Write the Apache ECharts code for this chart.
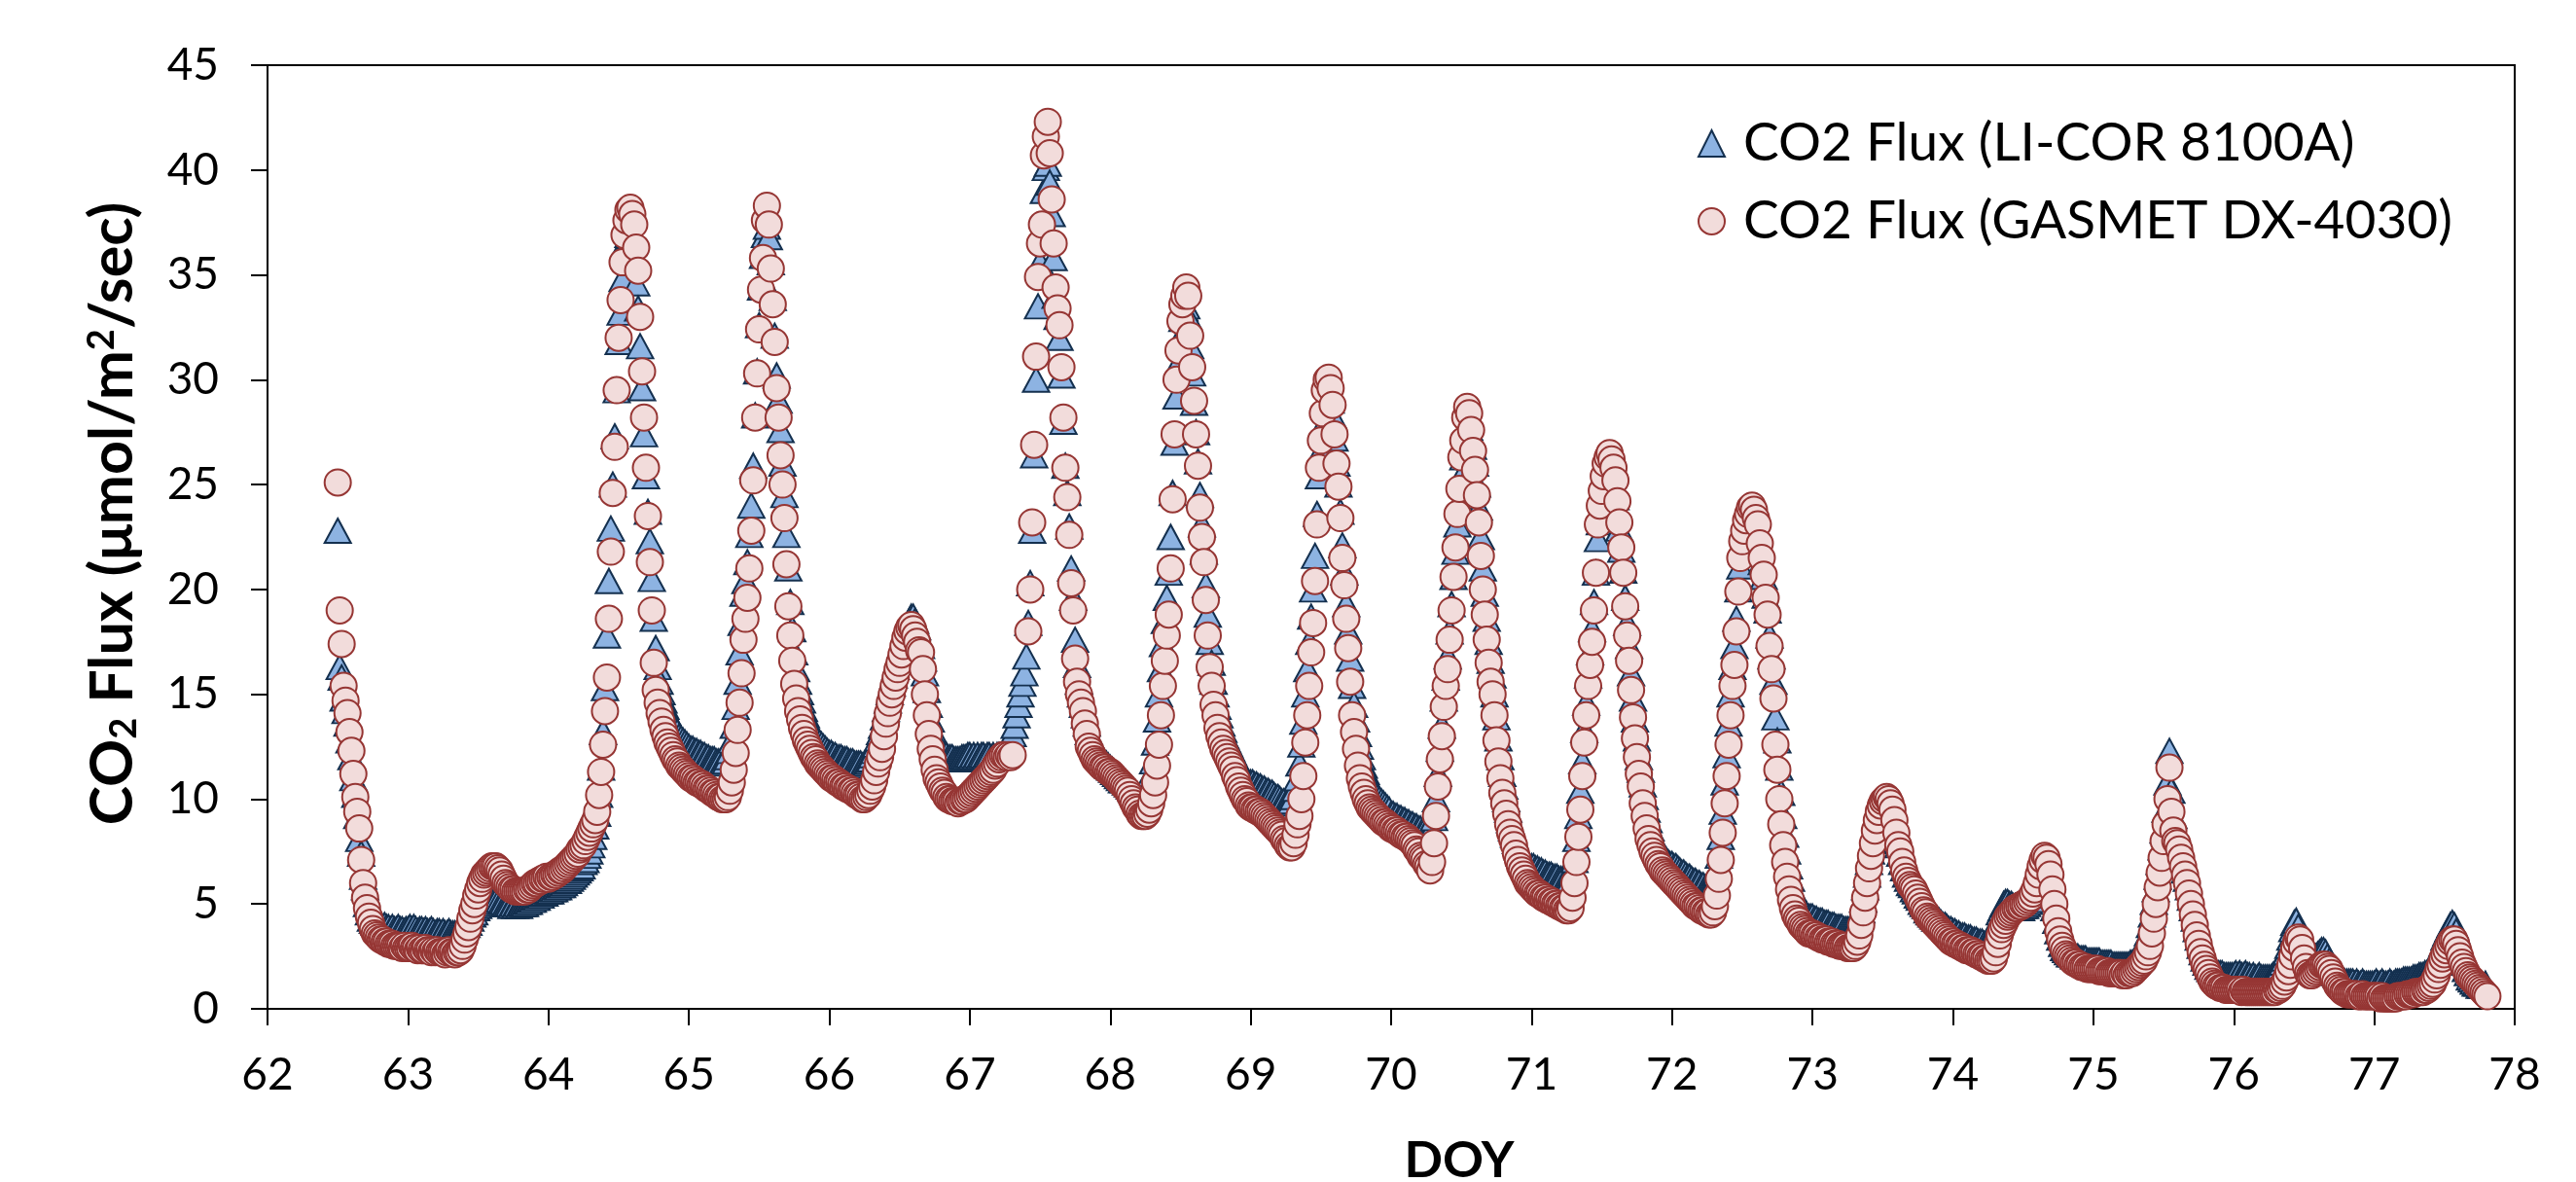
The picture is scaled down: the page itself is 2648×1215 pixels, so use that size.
<!DOCTYPE html>
<html>
<head>
<meta charset="utf-8">
<script src="https://cdn.jsdelivr.net/npm/echarts@6/dist/echarts.min.js"></script>
<style>
  html, body { margin: 0; padding: 0; background: #fff; }
  #chart { width: 2648px; height: 1215px; }
</style>
</head>
<body>
<div id="chart"></div>
<script>
// Chamber CO2 flux, two analysers, one value every 20 minutes (72 per day).
// The record begins at noon of DOY 62 (sample 36 of that day).
const SAMPLES_PER_DAY = 72;
const FIRST_DAY = 62;
const FIRST_SAMPLE = 36;

const DOY_AXIS = [62, 78, 1];      // min, max, step
const FLUX_AXIS = [0, 45, 5];      // min, max, step

const SERIES_NAMES = ['CO2 Flux (LI-COR 8100A)', 'CO2 Flux (GASMET DX-4030)'];

// ---- LI-COR 8100A, µmol/m2/sec, one array per day ----
const licor62 = [22.8,16.3,15.8,14.8,14.2,13.6,12.8,12.0,11.0,10.2,9.2,8.1,
  7.4,6.3,5.8,5.0,4.6,4.3,4.2,4.1,4.0,4.0,3.9,3.9,
  4.0,3.9,3.9,3.8,3.9,3.8,3.8,3.9,3.8,3.8,3.7,3.8];
const licor63 = [3.8,3.9,3.8,3.9,3.8,3.7,3.8,3.8,3.7,3.8,3.7,3.7,
  3.8,3.7,3.6,3.7,3.7,3.6,3.7,3.6,3.6,3.7,3.6,3.6,
  3.6,3.6,3.7,3.7,3.8,3.9,4.0,4.1,4.3,4.5,4.6,4.8,
  4.9,5.0,5.1,5.2,5.3,5.3,5.4,5.4,5.4,5.3,5.3,5.2,
  5.1,5.1,5.0,5.0,5.0,4.9,5.0,4.9,5.0,4.9,5.0,5.0,
  5.0,5.1,5.1,5.2,5.2,5.3,5.3,5.4,5.4,5.5,5.5,5.6];
const licor64 = [5.6,5.6,5.7,5.7,5.8,5.8,5.9,5.9,6.0,6.1,6.1,6.2,
  6.3,6.4,6.5,6.6,6.7,6.8,7.0,7.1,7.3,7.5,7.8,8.2,
  8.7,9.3,10.2,11.5,13.2,15.3,17.8,20.4,22.9,25.0,27.3,29.5,
  31.8,33.2,34.8,35.9,36.6,36.9,36.8,36.5,35.8,34.6,33.4,31.6,
  29.6,27.4,25.4,23.7,22.3,20.5,18.6,17.2,16.3,15.6,15.1,14.7,
  14.4,14.1,13.9,13.7,13.5,13.3,13.2,13.0,12.9,12.8,12.7,12.6];
const licor65 = [12.5,12.4,12.4,12.3,12.3,12.2,12.2,12.1,12.1,12.0,12.0,11.9,
  11.9,11.9,11.8,11.8,11.8,11.7,11.8,11.8,12.0,12.3,12.8,13.5,
  14.4,15.6,17.0,18.4,19.8,20.4,21.3,22.6,24.0,25.9,28.3,30.4,
  32.6,34.4,35.9,36.9,37.3,36.8,35.6,33.9,32.1,30.2,29.0,27.6,
  26.0,24.5,22.6,21.0,19.4,18.1,17.0,16.2,15.6,15.1,14.7,14.3,
  14.0,13.7,13.5,13.3,13.1,13.0,12.8,12.7,12.6,12.5,12.4,12.3];
const licor66 = [12.2,12.2,12.1,12.1,12.0,12.0,12.0,11.9,11.9,11.9,11.8,11.8,
  11.8,11.7,11.7,11.7,11.7,11.6,11.7,11.7,11.8,11.9,12.1,12.3,
  12.6,12.9,13.2,13.5,13.9,14.3,14.7,15.1,15.5,15.9,16.3,16.7,
  17.0,17.4,17.7,18.0,18.3,18.5,18.7,18.7,18.5,18.2,17.8,17.3,
  16.7,16.0,15.2,14.5,13.8,13.3,12.9,12.6,12.4,12.3,12.2,12.1,
  12.1,12.0,12.0,12.0,11.9,11.9,11.9,11.9,12.0,12.0,12.0,12.1];
const licor67 = [12.1,12.0,12.1,12.0,12.1,12.0,12.1,12.1,12.0,12.1,12.1,12.0,
  12.1,12.0,12.1,12.1,12.0,12.1,12.1,12.2,12.4,12.7,13.1,13.5,
  14.0,14.5,15.0,15.5,16.0,16.8,18.4,20.3,22.8,26.4,30.0,33.5,
  35.6,37.2,39.0,40.1,40.3,39.4,37.9,35.8,34.0,33.0,32.0,30.2,
  28.0,25.9,24.6,23.0,21.0,19.6,17.6,16.4,15.6,15.0,14.5,14.0,
  13.6,13.2,12.9,12.7,12.5,12.3,12.2,12.0,11.9,11.8,11.7,11.6];
const licor68 = [11.5,11.4,11.3,11.2,11.1,11.0,10.9,10.9,10.8,10.7,10.6,10.5,
  10.4,10.3,10.2,10.1,10.1,10.1,10.2,10.4,10.7,11.2,11.8,12.7,
  13.8,15.0,16.2,17.4,18.5,19.6,20.8,22.5,24.6,27.0,29.2,30.8,
  32.0,32.9,33.4,33.5,33.0,31.6,30.3,28.9,27.5,26.1,24.5,23.1,
  21.8,20.2,18.8,17.5,16.5,15.6,15.0,14.4,14.0,13.6,13.3,13.0,
  12.8,12.6,12.4,12.2,12.0,11.8,11.6,11.4,11.2,11.0,10.9,10.8];
const licor69 = [10.8,10.8,10.7,10.7,10.6,10.6,10.5,10.5,10.4,10.4,10.3,10.3,
  10.2,10.1,10.1,10.0,9.9,9.9,9.8,9.8,9.8,9.9,10.1,10.5,
  11.0,11.7,12.6,13.7,15.0,16.2,17.5,18.7,20.0,21.6,23.6,25.4,
  26.6,27.8,28.7,29.2,29.3,29.0,28.3,27.2,26.0,25.0,23.7,22.1,
  20.8,19.3,18.0,16.7,15.4,14.5,13.8,13.1,12.5,12.0,11.6,11.3,
  11.0,10.8,10.6,10.4,10.2,10.1,10.0,9.9,9.8,9.7,9.6,9.5];
const licor70 = [9.3,9.3,9.2,9.2,9.1,9.1,9.0,9.0,8.9,8.9,8.8,8.8,
  8.7,8.7,8.6,8.6,8.5,8.5,8.4,8.4,8.4,8.6,9.1,10.0,
  11.2,12.4,13.5,14.8,15.8,16.8,18.0,19.3,20.6,21.8,23.1,24.2,
  25.4,26.3,27.1,27.6,27.7,27.4,26.8,26.0,25.0,23.9,22.5,21.0,
  19.8,18.6,17.5,16.6,15.9,15.0,13.9,12.9,12.0,11.2,10.6,10.0,
  9.5,9.0,8.6,8.3,8.0,7.7,7.4,7.2,7.0,6.9,6.8,6.7];
const licor71 = [6.8,6.8,6.7,6.7,6.6,6.6,6.5,6.5,6.4,6.4,6.4,6.3,
  6.3,6.3,6.2,6.2,6.2,6.1,6.1,6.1,6.2,6.5,7.1,8.1,
  9.2,10.4,11.8,13.3,14.6,15.9,17.0,18.1,19.4,20.8,22.4,23.2,
  23.9,24.6,25.1,25.4,25.5,25.3,24.9,24.4,23.7,22.9,21.9,20.9,
  19.6,18.4,17.3,16.0,14.8,13.8,12.9,12.0,11.4,10.7,10.1,9.5,
  9.0,8.6,8.3,8.0,7.8,7.6,7.5,7.3,7.2,7.1,7.0,6.9];
const licor72 = [6.9,6.8,6.8,6.7,6.6,6.5,6.5,6.4,6.3,6.3,6.2,6.1,
  6.1,6.0,6.0,5.9,5.9,5.8,5.8,5.8,5.8,5.9,6.1,6.5,
  7.3,8.2,9.4,10.8,12.1,13.6,15.0,16.3,17.3,18.6,20.0,21.1,
  21.8,22.3,22.7,23.0,23.2,23.3,23.2,22.9,22.6,21.9,21.3,20.6,
  19.7,19.0,17.8,16.8,15.6,13.9,12.8,11.5,10.3,9.2,8.3,7.5,
  6.8,6.2,5.7,5.3,5.0,4.8,4.7,4.6,4.5,4.5,4.4,4.4];
const licor73 = [4.4,4.3,4.3,4.2,4.2,4.2,4.1,4.1,4.1,4.0,4.0,4.0,
  3.9,3.9,3.9,3.9,3.8,3.8,3.8,3.8,3.8,3.8,3.9,4.0,
  4.3,4.7,5.2,5.8,6.4,7.0,7.5,8.0,8.5,8.9,9.2,9.5,
  9.7,9.8,9.8,9.7,9.5,9.2,8.8,8.3,7.8,7.4,7.0,6.7,
  6.4,6.2,6.0,5.9,5.7,5.6,5.4,5.3,5.1,5.0,4.9,4.7,
  4.6,4.5,4.4,4.3,4.3,4.2,4.1,4.0,4.0,3.9,3.8,3.8];
const licor74 = [3.7,3.7,3.6,3.6,3.5,3.5,3.5,3.4,3.4,3.4,3.3,3.3,
  3.3,3.2,3.2,3.2,3.1,3.1,3.1,3.1,3.2,3.4,3.8,4.2,
  4.6,4.8,5.0,5.1,5.1,5.0,5.0,4.9,4.9,4.8,4.8,4.8,
  4.9,4.9,5.0,5.1,5.2,5.4,5.6,5.9,6.2,6.5,6.8,6.9,
  6.8,6.5,6.0,5.4,4.8,4.2,3.7,3.4,3.1,2.9,2.8,2.7,
  2.6,2.6,2.5,2.5,2.5,2.4,2.4,2.4,2.4,2.3,2.3,2.3];
const licor75 = [2.3,2.3,2.3,2.3,2.2,2.2,2.2,2.2,2.2,2.2,2.1,2.1,
  2.1,2.1,2.1,2.1,2.1,2.1,2.1,2.2,2.2,2.3,2.4,2.5,
  2.6,2.8,3.0,3.3,3.6,4.0,4.5,5.1,5.7,6.3,7.0,7.7,
  8.5,9.5,10.8,12.3,10.4,9.2,8.5,8.1,7.8,7.4,7.0,6.6,
  6.2,5.8,5.3,4.8,4.3,3.8,3.4,3.0,2.7,2.4,2.2,2.0,
  1.9,1.8,1.8,1.7,1.7,1.7,1.7,1.6,1.6,1.6,1.6,1.6];
const licor76 = [1.6,1.7,1.6,1.7,1.6,1.6,1.7,1.6,1.6,1.5,1.6,1.5,
  1.5,1.6,1.5,1.5,1.5,1.5,1.5,1.5,1.6,1.7,1.8,1.9,
  2.0,2.2,2.4,2.7,3.0,3.4,3.8,4.1,4.2,3.9,3.4,2.9,
  2.5,2.2,2.1,2.1,2.2,2.3,2.5,2.6,2.7,2.8,2.8,2.7,
  2.5,2.3,2.1,1.9,1.7,1.6,1.5,1.4,1.4,1.3,1.3,1.3,
  1.3,1.3,1.2,1.3,1.2,1.2,1.3,1.2,1.2,1.2,1.2,1.2];
const licor77 = [1.2,1.3,1.2,1.2,1.3,1.2,1.2,1.2,1.3,1.2,1.2,1.3,
  1.3,1.3,1.3,1.4,1.4,1.4,1.4,1.4,1.5,1.5,1.5,1.6,
  1.6,1.6,1.7,1.7,1.8,1.9,2.0,2.2,2.4,2.6,2.9,3.1,
  3.4,3.6,3.8,4.0,4.1,4.0,3.7,3.3,2.9,2.5,2.2,1.9,
  1.7,1.5,1.4,1.3,1.2,1.2,1.1,1.1,1.1,1.2];

// ---- GASMET DX-4030, µmol/m2/sec, one array per day (null = no reading) ----
const gasmet62 = [25.1,19.0,17.4,15.4,14.7,14.1,13.2,12.3,11.2,10.1,9.4,8.6,
  7.1,6.0,5.3,4.8,4.4,4.1,3.8,3.6,3.5,3.4,3.3,3.3,
  3.2,3.2,3.1,3.1,3.1,3.0,3.0,3.0,3.0,2.9,3.0,2.9];
const gasmet63 = [2.9,2.9,3.0,2.9,2.9,2.8,2.9,2.8,2.8,2.9,2.8,2.8,
  2.7,2.8,2.7,2.8,2.7,2.7,2.7,2.6,2.7,2.8,2.7,2.7,
  2.6,2.7,2.7,2.8,3.0,3.3,3.6,3.9,4.3,4.7,5.0,5.4,
  5.7,6.0,6.2,6.4,6.5,6.6,6.7,6.8,6.8,6.8,6.7,6.6,
  6.4,6.2,6.0,5.9,5.8,5.7,5.7,5.6,5.6,5.6,5.6,5.6,
  5.6,5.7,5.7,5.8,5.9,6.0,6.0,6.1,6.1,6.2,6.2,6.3];
const gasmet64 = [6.2,6.3,6.3,6.4,6.4,6.5,6.6,6.6,6.7,6.8,6.9,7.0,
  7.1,7.2,7.3,7.4,7.6,7.7,7.8,8.0,8.2,8.4,8.6,8.8,
  9.0,9.4,10.2,11.3,12.6,14.2,15.8,18.6,21.8,24.6,26.8,29.5,
  32.0,33.8,35.6,36.9,37.6,38.1,38.2,37.9,37.4,36.3,35.2,33.0,
  30.4,28.2,25.8,23.5,21.3,19.0,16.5,15.2,14.6,14.1,13.7,13.3,
  13.0,12.7,12.5,12.3,12.1,11.9,11.8,11.6,11.5,11.4,11.3,11.2];
const gasmet65 = [11.1,11.0,11.0,10.9,10.8,10.8,10.7,10.7,10.6,10.5,10.5,10.4,
  10.3,10.3,10.2,10.1,10.1,10.0,10.0,10.0,10.1,10.4,10.8,11.4,
  12.2,13.3,14.6,16.0,17.6,18.6,19.6,21.0,22.8,25.2,28.2,30.3,
  32.4,34.3,35.8,37.6,38.3,37.4,35.3,33.6,31.8,29.6,28.2,26.4,
  25.0,23.4,21.2,19.2,17.8,16.6,15.5,14.8,14.2,13.8,13.4,13.1,
  12.8,12.6,12.4,12.2,12.0,11.9,11.7,11.6,11.5,11.4,11.3,11.2];
const gasmet66 = [11.1,11.0,11.0,10.9,10.8,10.8,10.7,10.6,10.6,10.5,10.5,10.4,
  10.4,10.3,10.2,10.2,10.1,10.0,10.0,10.1,10.2,10.4,10.6,10.9,
  11.3,11.7,12.0,12.4,13.0,13.6,14.1,14.6,15.0,15.4,15.8,16.2,
  16.5,16.9,17.3,17.7,18.0,18.2,18.3,18.1,17.8,17.5,17.1,17.0,
  16.2,15.0,14.0,13.1,12.4,11.9,11.4,11.0,10.8,10.6,10.4,10.3,
  10.1,10.0,10.0,9.9,9.9,9.9,9.8,9.9,9.9,10.0,10.0,10.1];
const gasmet67 = [10.2,10.3,10.4,10.5,10.6,10.7,10.8,10.9,11.0,11.1,11.2,11.3,
  11.4,11.6,11.7,11.9,12.0,12.1,12.1,12.0,12.1,12.0,12.1,null,
  null,null,null,null,null,null,18.0,20.0,23.2,26.9,31.1,34.9,
  36.5,37.4,40.7,41.6,42.3,40.8,38.6,36.5,34.4,33.4,32.6,30.6,
  28.2,25.8,24.4,22.6,20.3,19.0,16.7,15.6,15.0,14.6,14.2,13.6,
  13.1,12.5,12.3,12.1,11.9,11.8,11.7,11.6,11.5,11.5,11.4,11.3];
const gasmet68 = [11.3,11.2,11.1,11.0,10.9,10.8,10.7,10.6,10.5,10.4,10.2,10.0,
  9.8,9.6,9.5,9.3,9.2,9.2,9.2,9.3,9.5,9.8,10.2,10.8,
  11.6,12.6,14.0,15.4,16.6,17.8,18.8,21.0,24.3,27.4,30.0,31.4,
  32.8,33.6,34.0,34.4,34.0,32.1,30.6,29.0,27.4,25.9,23.9,22.5,
  21.3,19.5,17.8,16.3,15.4,14.5,14.0,13.4,13.0,12.7,12.4,12.2,
  12.0,11.8,11.6,11.4,11.1,10.9,10.6,10.4,10.2,10.0,9.9,9.7];
const gasmet69 = [9.6,9.6,9.5,9.5,9.4,9.4,9.3,9.2,9.1,9.0,8.9,8.8,
  8.7,8.6,8.5,8.4,8.3,8.1,8.0,7.8,7.7,7.7,7.9,8.3,
  8.8,9.2,10.0,11.1,12.7,14.0,15.4,17.0,18.4,20.4,23.1,25.8,
  27.1,28.4,29.5,30.0,30.1,29.6,28.8,27.4,26.0,24.9,23.4,21.5,
  20.2,18.6,17.2,15.6,14.0,13.2,12.4,11.6,11.0,10.6,10.3,10.0,
  9.8,9.6,9.5,9.4,9.3,9.2,9.1,9.0,8.9,8.9,8.8,8.7];
const gasmet70 = [8.6,8.6,8.5,8.5,8.4,8.3,8.3,8.2,8.2,8.1,8.0,7.9,
  7.8,7.6,7.5,7.3,7.2,7.1,6.9,6.8,6.6,7.0,7.9,9.2,
  10.6,11.9,13.0,14.4,15.4,16.2,17.6,19.0,20.6,22.0,23.6,24.8,
  26.3,27.1,28.2,28.7,28.4,27.6,26.6,25.7,24.5,23.2,21.6,20.0,
  18.8,17.6,16.5,15.6,15.0,14.0,12.8,11.8,11.0,10.3,9.8,9.3,
  8.8,8.4,8.1,7.8,7.4,7.1,6.8,6.6,6.4,6.2,6.0,5.9];
const gasmet71 = [5.8,5.7,5.6,5.5,5.5,5.4,5.3,5.3,5.2,5.2,5.1,5.1,
  5.0,5.0,4.9,4.9,4.8,4.8,4.7,4.7,4.8,5.3,6.0,7.0,
  8.2,9.5,11.1,12.7,14.0,15.4,16.4,17.5,19.0,20.8,23.1,24.0,
  24.7,25.4,26.0,26.3,26.5,26.2,25.8,25.2,24.2,23.2,22.0,20.8,
  19.2,17.8,16.6,15.2,13.9,12.9,12.0,11.2,10.6,9.8,9.2,8.6,
  8.1,7.8,7.5,7.3,7.1,6.9,6.8,6.6,6.5,6.4,6.3,6.2];
const gasmet72 = [6.1,6.0,5.9,5.8,5.7,5.6,5.5,5.4,5.3,5.2,5.1,5.0,
  4.9,4.9,4.8,4.7,4.7,4.6,4.6,4.5,4.5,4.6,4.9,5.4,
  6.2,7.1,8.4,9.8,11.1,12.6,14.0,15.4,16.4,18.0,19.9,21.5,
  22.3,22.8,23.3,23.6,23.9,24.0,23.8,23.4,23.1,22.2,21.5,20.7,
  19.6,18.8,17.3,16.2,14.8,12.6,11.4,10.0,8.8,7.8,7.0,6.3,
  5.7,5.2,4.8,4.5,4.3,4.2,4.0,3.9,3.8,3.7,3.6,3.6];
const gasmet73 = [3.6,3.5,3.5,3.4,3.4,3.3,3.3,3.3,3.2,3.2,3.2,3.1,
  3.1,3.1,3.0,3.0,3.0,3.0,2.9,2.9,2.9,2.9,3.0,3.2,
  3.5,4.0,4.6,5.3,6.0,6.7,7.3,7.9,8.5,9.0,9.4,9.7,
  9.9,10.0,10.1,10.0,9.8,9.5,9.0,8.4,7.8,7.5,7.0,6.6,
  6.3,6.1,5.9,5.8,5.7,5.5,5.3,5.1,4.9,4.7,4.6,4.4,
  4.3,4.2,4.1,4.0,3.9,3.8,3.7,3.6,3.5,3.4,3.3,3.2];
const gasmet74 = [3.2,3.1,3.1,3.0,3.0,2.9,2.9,2.8,2.8,2.8,2.7,2.7,
  2.6,2.6,2.5,2.5,2.4,2.4,2.3,2.3,2.3,2.4,2.7,3.1,
  3.5,3.8,4.0,4.2,4.4,4.5,4.6,4.7,4.8,4.8,4.9,4.9,
  5.0,5.0,5.1,5.2,5.3,5.5,5.7,6.0,6.4,6.8,7.1,7.3,
  7.2,6.9,6.4,5.7,5.0,4.3,3.7,3.3,3.0,2.8,2.6,2.5,
  2.4,2.3,2.2,2.2,2.1,2.1,2.0,2.0,2.0,1.9,1.9,1.9];
const gasmet75 = [1.9,1.9,1.9,1.8,1.8,1.8,1.8,1.8,1.7,1.7,1.7,1.7,
  1.7,1.7,1.7,1.6,1.7,1.6,1.7,1.7,1.7,1.8,1.9,2.0,
  2.1,2.2,2.3,2.5,2.7,3.0,3.6,4.3,5.0,5.8,6.5,7.2,
  8.0,8.8,10.0,11.5,9.4,8.5,8.0,7.9,7.6,7.2,6.8,6.4,
  6.0,5.5,5.0,4.5,4.0,3.5,3.1,2.7,2.4,2.1,1.9,1.7,
  1.5,1.3,1.2,1.1,1.1,1.0,1.0,1.0,0.9,0.9,0.9,0.9];
const gasmet76 = [0.9,0.9,0.9,0.9,0.8,0.9,0.8,0.8,0.8,0.8,0.8,0.8,
  0.8,0.8,0.8,0.8,0.8,0.8,0.8,0.8,0.8,0.8,0.9,0.9,
  1.0,1.1,1.3,1.5,1.8,2.1,2.5,2.9,3.2,3.4,3.3,2.9,
  2.4,2.0,1.7,1.6,1.6,1.7,1.8,1.9,2.0,2.1,2.1,2.1,
  2.0,1.9,1.7,1.5,1.3,1.1,1.0,0.9,0.8,0.8,0.7,0.7,
  0.7,0.7,0.7,0.7,0.6,0.6,0.7,0.6,0.6,0.6,0.6,0.6];
const gasmet77 = [0.6,0.6,0.6,0.5,0.6,0.5,0.5,0.5,0.5,0.5,0.5,0.5,
  0.6,0.6,0.6,0.6,0.6,0.7,0.7,0.7,0.7,0.8,0.8,0.8,
  0.8,0.8,0.9,0.9,1.0,1.1,1.2,1.4,1.6,1.9,2.1,2.4,
  2.6,2.8,3.0,3.2,3.3,3.3,3.1,2.8,2.5,2.2,2.0,1.8,
  1.6,1.5,1.4,1.3,1.2,1.1,1.0,0.9,0.8,0.7,0.6];

const licorDays = [licor62, licor63, licor64, licor65, licor66, licor67, licor68, licor69,
  licor70, licor71, licor72, licor73, licor74, licor75, licor76, licor77];
const gasmetDays = [gasmet62, gasmet63, gasmet64, gasmet65, gasmet66, gasmet67, gasmet68, gasmet69,
  gasmet70, gasmet71, gasmet72, gasmet73, gasmet74, gasmet75, gasmet76, gasmet77];

// Turn the per-day arrays into [DOY, flux] pairs on the 20-minute time grid.
function toPoints(days) {
  const pts = [];
  days.forEach((vals, k) => {
    const day = FIRST_DAY + k;
    const start = k === 0 ? FIRST_SAMPLE : 0;
    vals.forEach((v, i) => {
      if (v !== null) pts.push([day + (start + i) / SAMPLES_PER_DAY, v]);
    });
  });
  return pts;
}

const FONT = 'Lato';
const chart = echarts.init(document.getElementById('chart'), null, { renderer: 'canvas' });

chart.setOption({
  animation: false,
  backgroundColor: '#ffffff',
  grid: {
    left: 275, right: 63, top: 67, bottom: 178,
    show: true, borderColor: '#000', borderWidth: 2,
    outerBoundsMode: 'none'
  },
  legend: {
    orient: 'vertical',
    left: 1740, top: 115,
    itemWidth: 27, itemHeight: 27, itemGap: 25,
    selectedMode: false,
    textStyle: { fontFamily: FONT, fontSize: 55, color: '#000', padding: [0, 0, 0, 14] },
    data: [
      { name: SERIES_NAMES[0], icon: 'triangle' },
      { name: SERIES_NAMES[1], icon: 'circle' }
    ]
  },
  xAxis: {
    type: 'value',
    min: DOY_AXIS[0], max: DOY_AXIS[1], interval: DOY_AXIS[2],
    axisLine: { show: true, onZero: false, lineStyle: { color: '#000', width: 2 } },
    axisTick: { show: true, inside: false, length: 17, lineStyle: { color: '#000', width: 2 } },
    axisLabel: { margin: 45, fontFamily: FONT, fontSize: 46, color: '#000', showMinLabel: true, showMaxLabel: true },
    splitLine: { show: false }
  },
  yAxis: {
    type: 'value',
    min: FLUX_AXIS[0], max: FLUX_AXIS[1], interval: FLUX_AXIS[2],
    axisLine: { show: true, lineStyle: { color: '#000', width: 2 } },
    axisTick: { show: true, inside: false, length: 17, lineStyle: { color: '#000', width: 2 } },
    axisLabel: { margin: 50, fontFamily: FONT, fontSize: 46, color: '#000', showMinLabel: true, showMaxLabel: true },
    splitLine: { show: false }
  },
  graphic: [
    {
      type: 'text',
      x: 116, y: 528,
      rotation: Math.PI / 2,
      style: {
        text: '{b|CO}{s|2}{b| Flux (μmol/m}{p|2}{b|/sec)}',
        align: 'center', verticalAlign: 'middle',
        fill: '#000',
        rich: {
          b: { fontFamily: FONT, fontWeight: 'bold', fontSize: 61, lineHeight: 61, fill: '#000' },
          s: { fontFamily: FONT, fontWeight: 'bold', fontSize: 38, lineHeight: 22, verticalAlign: 'bottom', fill: '#000' },
          p: { fontFamily: FONT, fontWeight: 'bold', fontSize: 38, lineHeight: 27, verticalAlign: 'top', fill: '#000' }
        }
      }
    },
    {
      type: 'text',
      x: 1500, y: 1193,
      style: {
        text: 'DOY',
        align: 'center', verticalAlign: 'middle',
        fontFamily: FONT, fontWeight: 'bold', fontSize: 52, fill: '#000'
      }
    }
  ],
  series: [
    {
      name: SERIES_NAMES[0],
      type: 'scatter',
      symbol: 'triangle',
      symbolSize: [27, 25],
      itemStyle: { color: '#8DB3E2', borderColor: '#14304F', borderWidth: 2, opacity: 1 },
      emphasis: { disabled: true },
      progressive: 0,
      data: toPoints(licorDays)
    },
    {
      name: SERIES_NAMES[1],
      type: 'scatter',
      symbol: 'circle',
      symbolSize: 27,
      itemStyle: { color: '#F2DCDB', borderColor: '#963634', borderWidth: 2, opacity: 1 },
      emphasis: { disabled: true },
      progressive: 0,
      data: toPoints(gasmetDays)
    }
  ]
});
</script>
</body>
</html>
